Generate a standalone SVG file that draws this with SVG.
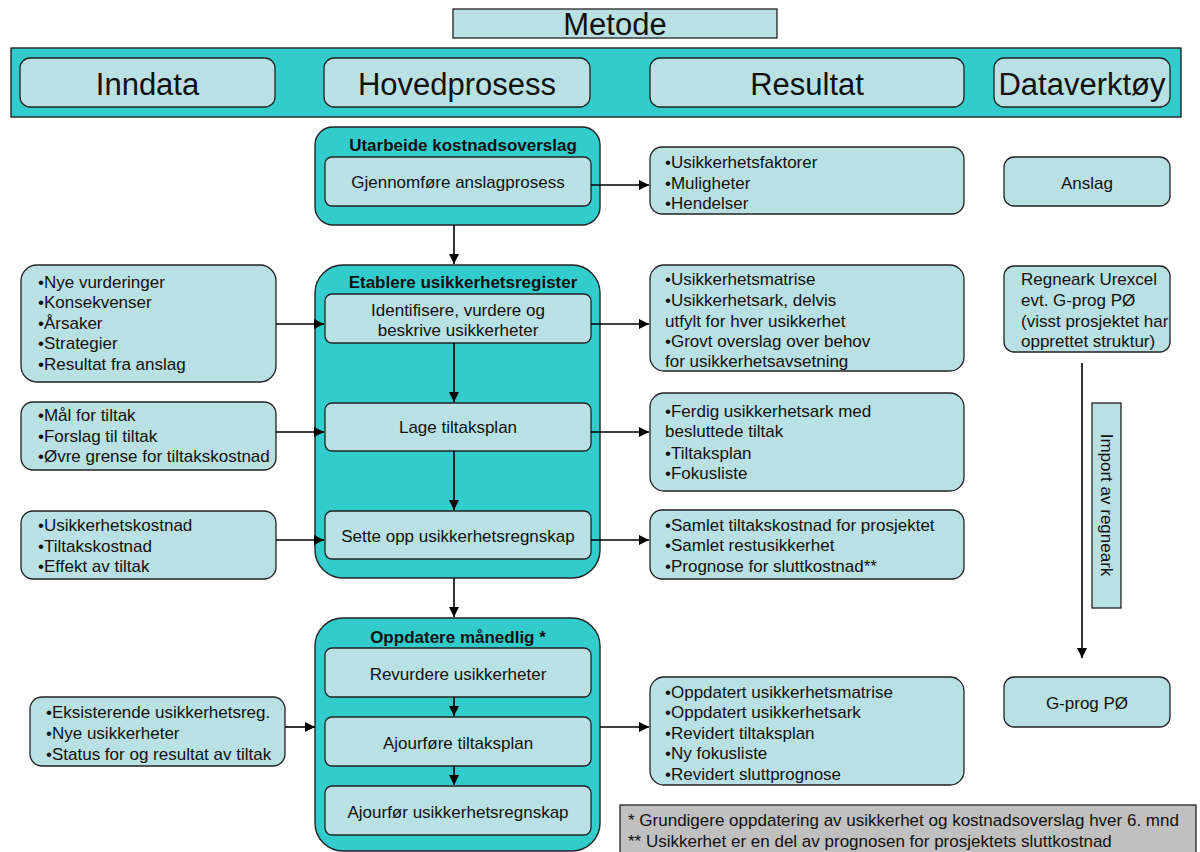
<svg xmlns="http://www.w3.org/2000/svg" width="1200" height="852" viewBox="0 0 1200 852">
  <style>
    text { font-family: "Liberation Sans", Arial, sans-serif; fill: #111; }
    .hdr { font-size: 31px; text-anchor: middle; }
    .t { font-size: 17px; }
    .c { text-anchor: middle; }
    .b { font-weight: bold; }
    .band { fill: #33CCCC; stroke: #222; stroke-width: 1.4; }
    .grp { fill: #33CCCC; stroke: #222; stroke-width: 1.4; }
    .box { fill: #B9E0E3; stroke: #222; stroke-width: 1.3; }
    .note { fill: #C0C0C0; stroke: #222; stroke-width: 1.3; }
    .conn line { stroke: #000; stroke-width: 1.6; fill: none; }
  </style>
  <defs>
    <marker id="arrow" viewBox="0 0 10 10" refX="10" refY="5" markerWidth="10" markerHeight="10" markerUnits="userSpaceOnUse" orient="auto">
      <path d="M0,0 L10,5 L0,10 Z" fill="#000"/>
    </marker>
  </defs>

  <!-- title -->
  <g id="title">
    <rect x="453" y="9" width="324" height="29" fill="#B9E0E3" stroke="#222" stroke-width="1.3"/>
    <text class="hdr" x="615" y="35">Metode</text>
  </g>

  <!-- column headers -->
  <g id="header">
    <rect class="band" x="11" y="48" width="1170" height="69"/>
    <rect class="box" x="20" y="58" width="255" height="49" rx="10"/>
    <text class="hdr" x="147.5" y="95">Inndata</text>
    <rect class="box" x="324" y="58" width="266" height="49" rx="10"/>
    <text class="hdr" x="457" y="95">Hovedprosess</text>
    <rect class="box" x="650" y="58" width="314" height="49" rx="10"/>
    <text class="hdr" x="807" y="95">Resultat</text>
    <rect class="box" x="994" y="58" width="176" height="49" rx="10"/>
    <text class="hdr" x="1082" y="95">Dataverktøy</text>
  </g>

  <!-- process 1 -->
  <g id="utarbeide">
    <rect class="grp" x="315" y="127" width="285" height="98" rx="18"/>
    <text class="t b c" x="463" y="151">Utarbeide kostnadsoverslag</text>
    <rect class="box" x="325" y="157" width="266" height="49" rx="7"/>
    <text class="t c" x="458" y="188">Gjennomføre anslagprosess</text>
  </g>

  <!-- process 2 -->
  <g id="etablere">
    <rect class="grp" x="315" y="265" width="285" height="313" rx="28"/>
    <text class="t b c" x="463" y="288">Etablere usikkerhetsregister</text>
  </g>
  <g id="identifisere">
    <rect class="box" x="325" y="294" width="266" height="49" rx="7"/>
    <text class="t c" x="458" y="316">Identifisere, vurdere og</text>
    <text class="t c" x="458" y="336">beskrive usikkerheter</text>
  </g>
  <g id="lage-tiltaksplan">
    <rect class="box" x="325" y="403" width="266" height="48" rx="7"/>
    <text class="t c" x="458" y="433">Lage tiltaksplan</text>
  </g>
  <g id="sette-opp">
    <rect class="box" x="325" y="511" width="266" height="48" rx="7"/>
    <text class="t c" x="458" y="542">Sette opp usikkerhetsregnskap</text>
  </g>

  <!-- process 3 -->
  <g id="oppdatere">
    <rect class="grp" x="315" y="618" width="285" height="233" rx="28"/>
    <text class="t b c" x="458" y="643">Oppdatere månedlig *</text>
  </g>
  <g id="revurdere">
    <rect class="box" x="325" y="648" width="266" height="49" rx="7"/>
    <text class="t c" x="458" y="680">Revurdere usikkerheter</text>
  </g>
  <g id="ajourfore-tiltaksplan">
    <rect class="box" x="325" y="717" width="266" height="49" rx="7"/>
    <text class="t c" x="458" y="749">Ajourføre tiltaksplan</text>
  </g>
  <g id="ajourfor-regnskap">
    <rect class="box" x="325" y="786" width="266" height="49" rx="7"/>
    <text class="t c" x="458" y="818">Ajourfør usikkerhetsregnskap</text>
  </g>

  <!-- inputs -->
  <g id="inn-1">
    <rect class="box" x="21" y="265" width="255" height="117" rx="16"/>
    <text class="t" x="38" y="288">•Nye vurderinger</text>
    <text class="t" x="38" y="308">•Konsekvenser</text>
    <text class="t" x="38" y="329">•Årsaker</text>
    <text class="t" x="38" y="349">•Strategier</text>
    <text class="t" x="38" y="370">•Resultat fra anslag</text>
  </g>
  <g id="inn-2">
    <rect class="box" x="21" y="402" width="255" height="68" rx="12"/>
    <text class="t" x="38" y="421">•Mål for tiltak</text>
    <text class="t" x="38" y="442">•Forslag til tiltak</text>
    <text class="t" x="38" y="462">•Øvre grense for tiltakskostnad</text>
  </g>
  <g id="inn-3">
    <rect class="box" x="21" y="511" width="255" height="68" rx="12"/>
    <text class="t" x="38" y="531">•Usikkerhetskostnad</text>
    <text class="t" x="38" y="552">•Tiltakskostnad</text>
    <text class="t" x="38" y="572">•Effekt av tiltak</text>
  </g>
  <g id="inn-4">
    <rect class="box" x="30" y="697" width="255" height="69" rx="12"/>
    <text class="t" x="46" y="718">•Eksisterende usikkerhetsreg.</text>
    <text class="t" x="46" y="739">•Nye usikkerheter</text>
    <text class="t" x="46" y="760">•Status for og resultat av tiltak</text>
  </g>

  <!-- results -->
  <g id="res-1">
    <rect class="box" x="650" y="147" width="314" height="67" rx="12"/>
    <text class="t" x="665" y="168">•Usikkerhetsfaktorer</text>
    <text class="t" x="665" y="189">•Muligheter</text>
    <text class="t" x="665" y="209">•Hendelser</text>
  </g>
  <g id="res-2">
    <rect class="box" x="650" y="265" width="314" height="106" rx="14"/>
    <text class="t" x="665" y="285">•Usikkerhetsmatrise</text>
    <text class="t" x="665" y="306">•Usikkerhetsark, delvis</text>
    <text class="t" x="665" y="327">utfylt for hver usikkerhet</text>
    <text class="t" x="665" y="347">•Grovt overslag over behov</text>
    <text class="t" x="665" y="367">for usikkerhetsavsetning</text>
  </g>
  <g id="res-3">
    <rect class="box" x="650" y="393" width="314" height="98" rx="14"/>
    <text class="t" x="665" y="417">•Ferdig usikkerhetsark med</text>
    <text class="t" x="665" y="437">besluttede tiltak</text>
    <text class="t" x="665" y="459">•Tiltaksplan</text>
    <text class="t" x="665" y="479">•Fokusliste</text>
  </g>
  <g id="res-4">
    <rect class="box" x="650" y="510" width="314" height="69" rx="12"/>
    <text class="t" x="665" y="531">•Samlet tiltakskostnad for prosjektet</text>
    <text class="t" x="665" y="551">•Samlet restusikkerhet</text>
    <text class="t" x="665" y="572">•Prognose for sluttkostnad**</text>
  </g>
  <g id="res-5">
    <rect class="box" x="650" y="677" width="314" height="108" rx="14"/>
    <text class="t" x="665" y="698">•Oppdatert usikkerhetsmatrise</text>
    <text class="t" x="665" y="718">•Oppdatert usikkerhetsark</text>
    <text class="t" x="665" y="739">•Revidert tiltaksplan</text>
    <text class="t" x="665" y="759">•Ny fokusliste</text>
    <text class="t" x="665" y="780">•Revidert sluttprognose</text>
  </g>

  <!-- tools -->
  <g id="anslag">
    <rect class="box" x="1004" y="157" width="166" height="49" rx="10"/>
    <text class="t c" x="1087" y="189">Anslag</text>
  </g>
  <g id="regneark">
    <rect class="box" x="1004" y="266" width="166" height="86" rx="10"/>
    <text class="t" x="1021" y="285">Regneark Urexcel</text>
    <text class="t" x="1021" y="306">evt. G-prog PØ</text>
    <text class="t" x="1021" y="327">(visst prosjektet har</text>
    <text class="t" x="1021" y="347">opprettet struktur)</text>
  </g>
  <g id="import">
    <rect class="box" x="1092" y="403" width="29" height="205"/>
    <text class="t c" transform="translate(1101,505) rotate(90)" x="0" y="0">Import av regneark</text>
  </g>
  <g id="gprog">
    <rect class="box" x="1004" y="677" width="166" height="50" rx="10"/>
    <text class="t c" x="1087" y="709">G-prog PØ</text>
  </g>

  <!-- footnotes -->
  <g id="footnote">
    <rect class="note" x="620" y="805" width="576" height="60"/>
    <text class="t" x="628" y="826">* Grundigere oppdatering av usikkerhet og kostnadsoverslag hver 6. mnd</text>
    <text class="t" x="628" y="847">** Usikkerhet er en del av prognosen for prosjektets sluttkostnad</text>
  </g>

  <!-- connectors -->
  <g id="connectors" class="conn">
    <line x1="454" y1="225" x2="454" y2="264" marker-end="url(#arrow)"/>
    <line x1="454" y1="343" x2="454" y2="402" marker-end="url(#arrow)"/>
    <line x1="454" y1="451" x2="454" y2="510" marker-end="url(#arrow)"/>
    <line x1="454" y1="578" x2="454" y2="617" marker-end="url(#arrow)"/>
    <line x1="454" y1="697" x2="454" y2="716" marker-end="url(#arrow)"/>
    <line x1="454" y1="766" x2="454" y2="785" marker-end="url(#arrow)"/>

    <line x1="276" y1="324" x2="324" y2="324" marker-end="url(#arrow)"/>
    <line x1="276" y1="432" x2="324" y2="432" marker-end="url(#arrow)"/>
    <line x1="276" y1="540" x2="324" y2="540" marker-end="url(#arrow)"/>
    <line x1="285" y1="727" x2="315" y2="727" marker-end="url(#arrow)"/>

    <line x1="591" y1="185" x2="649" y2="185" marker-end="url(#arrow)"/>
    <line x1="591" y1="324" x2="649" y2="324" marker-end="url(#arrow)"/>
    <line x1="591" y1="432" x2="649" y2="432" marker-end="url(#arrow)"/>
    <line x1="591" y1="540" x2="649" y2="540" marker-end="url(#arrow)"/>
    <line x1="600" y1="727" x2="649" y2="727" marker-end="url(#arrow)"/>

    <line x1="1082" y1="363" x2="1082" y2="658" marker-end="url(#arrow)"/>
  </g>
</svg>
